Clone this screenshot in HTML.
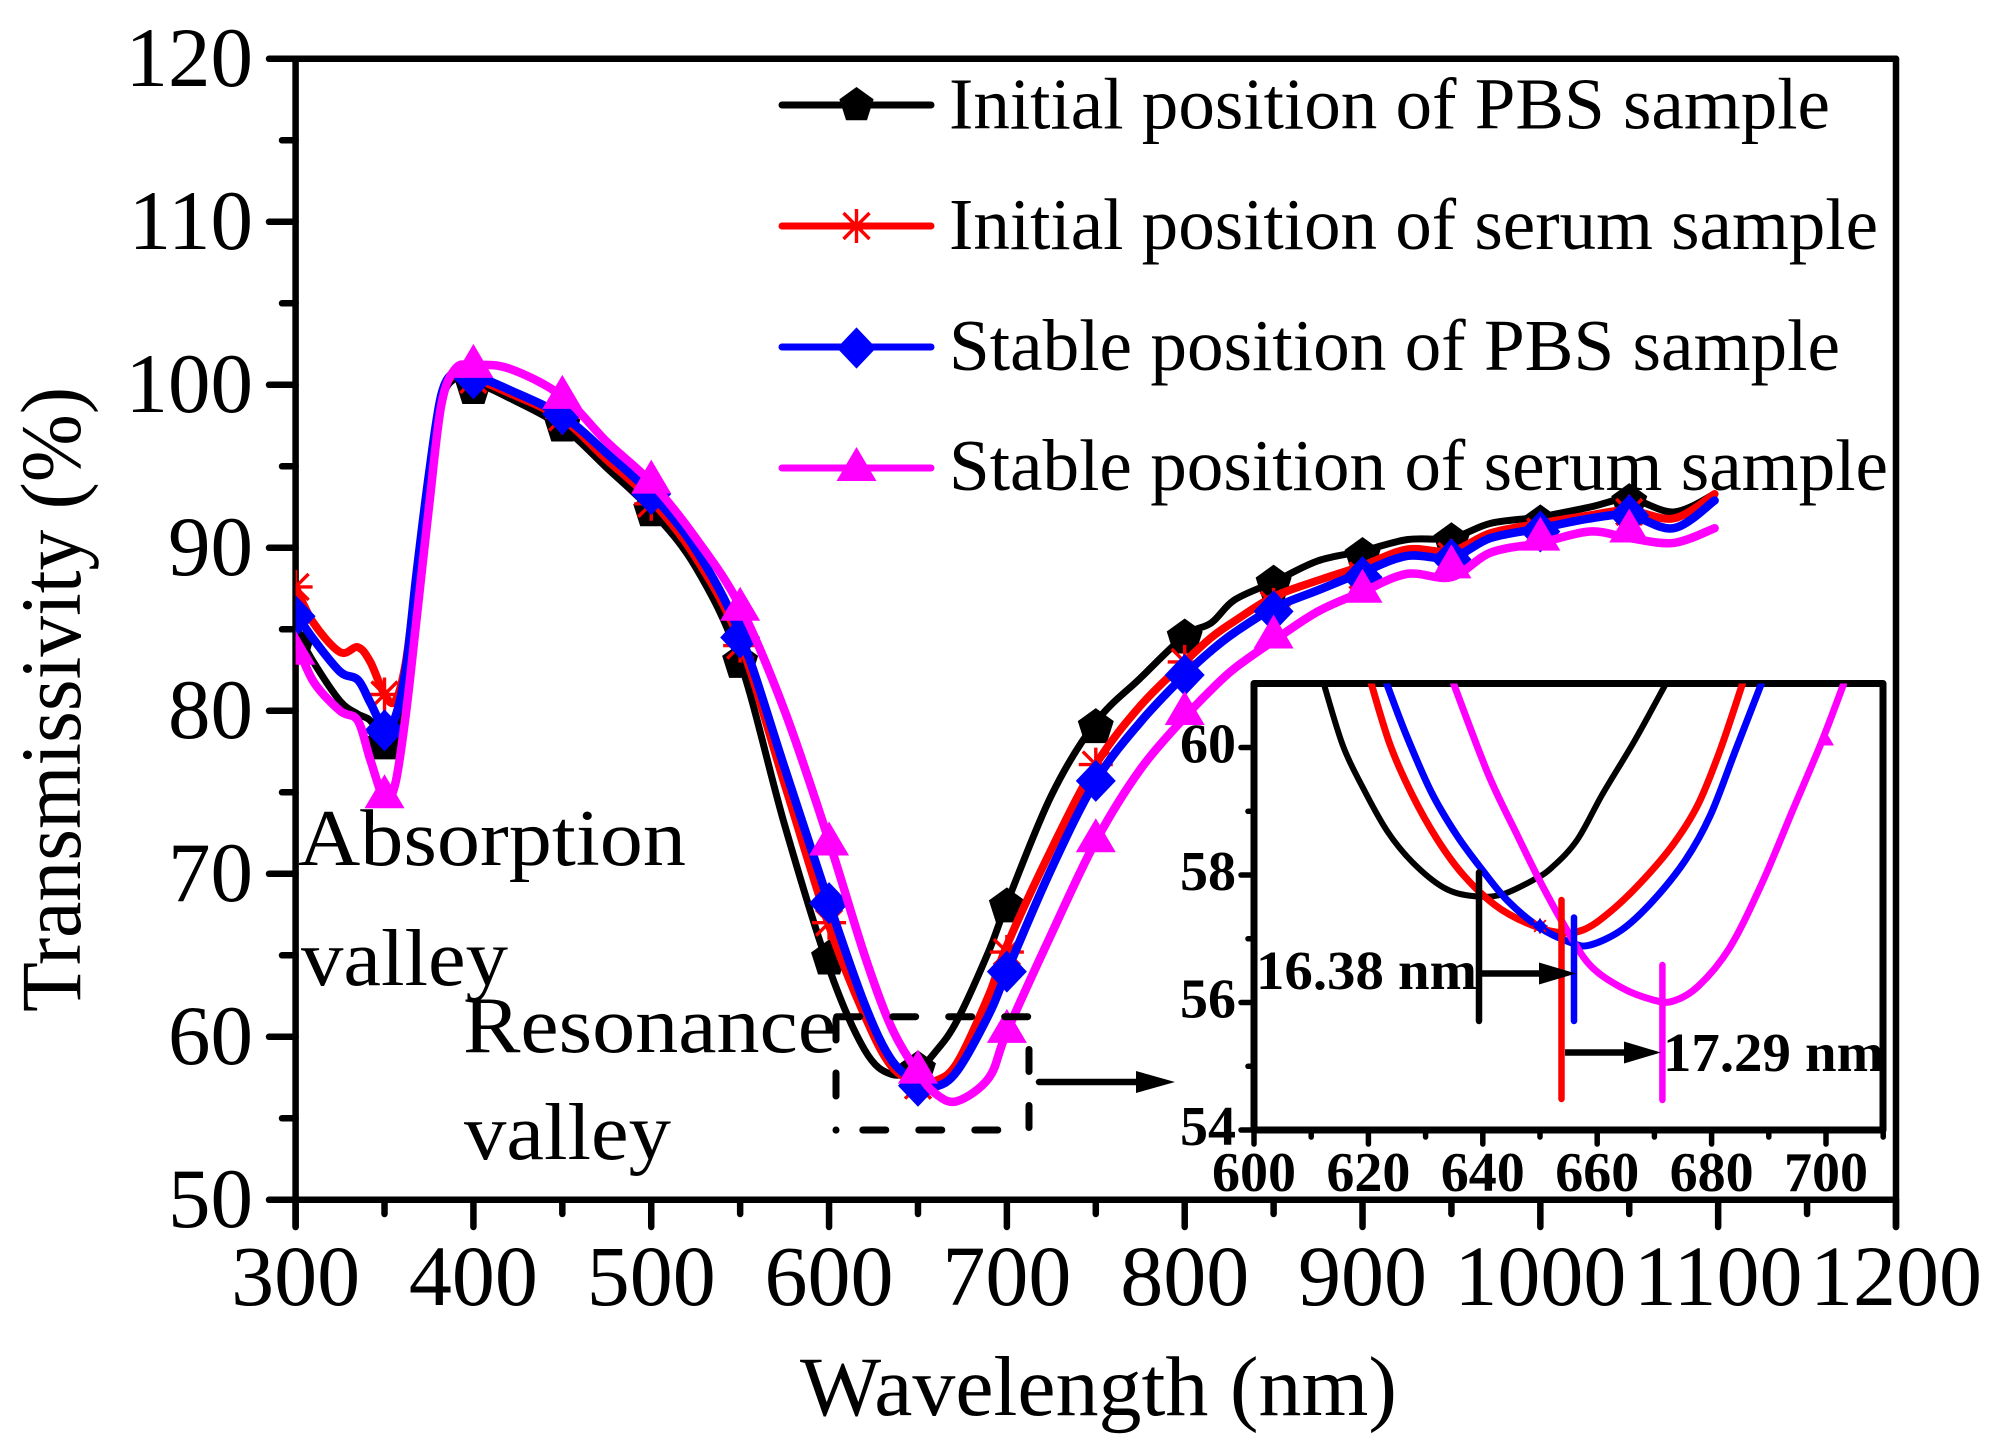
<!DOCTYPE html>
<html lang="en">
<head>
<meta charset="utf-8">
<title>Transmissivity versus wavelength</title>
<style>
html,body{margin:0;padding:0;background:#fff;}
svg{display:block;}
text{font-family:"Liberation Serif","Times New Roman",serif;fill:#000;}
.bold{font-weight:bold;}
</style>
</head>
<body>
<svg id="chart" xmlns="http://www.w3.org/2000/svg" width="1995" height="1443" viewBox="0 0 1995 1443">
  <rect x="0" y="0" width="1995" height="1443" fill="#fff"/>
  <defs>
    <clipPath id="plot-clip"><rect x="295.6" y="58.8" width="1600.4" height="1141"/></clipPath>
    <clipPath id="inset-clip"><rect x="1254" y="683.5" width="629" height="446.5"/></clipPath>
  </defs>
  <g id="main-axes"></g>
  <g id="main-series" clip-path="url(#plot-clip)"></g>

  <text transform="translate(80,1012) rotate(-90)" font-size="86" textLength="625" lengthAdjust="spacingAndGlyphs">Transmissivity (%)</text>
  <text x="800" y="1415" font-size="85" textLength="597" lengthAdjust="spacingAndGlyphs">Wavelength (nm)</text>

  <g font-size="80">
    <text x="298" y="865" textLength="388" lengthAdjust="spacingAndGlyphs">Absorption</text>
    <text x="301" y="985" textLength="207" lengthAdjust="spacingAndGlyphs">valley</text>
    <text x="463" y="1052" textLength="373" lengthAdjust="spacingAndGlyphs">Resonance</text>
    <text x="464" y="1159" textLength="207" lengthAdjust="spacingAndGlyphs">valley</text>
  </g>

  <g stroke="#000" stroke-width="7" stroke-linecap="round" fill="none">
    <path d="M836.7 1016.7H1029" stroke-dasharray="23 33"/>
    <path d="M836 1019V1040"/>
    <path d="M836 1073V1096"/>
    <path d="M836 1130V1130.1"/>
    <path d="M862.8 1130H1000" stroke-dasharray="23 33"/>
    <path d="M1029 1049.5V1071.5"/>
    <path d="M1029 1105.5V1127.5"/>
  </g>
  <g>
    <path d="M1039 1082H1140" stroke="#000" stroke-width="6.5" stroke-linecap="round"/>
    <path d="M1136 1071L1175 1082L1136 1093Z" fill="#000"/>
  </g>

  <g id="legend" font-size="73">
    <g>
      <path d="M782 105H931" stroke="#000" stroke-width="7" stroke-linecap="round"/>
      <text x="949" y="128.5" textLength="881" lengthAdjust="spacingAndGlyphs">Initial position of PBS sample</text>
    </g>
    <g>
      <path d="M782 226H931" stroke="#f00" stroke-width="7" stroke-linecap="round"/>
      <text x="949" y="249" textLength="929" lengthAdjust="spacingAndGlyphs">Initial position of serum sample</text>
    </g>
    <g>
      <path d="M782 347H931" stroke="#00f" stroke-width="7" stroke-linecap="round"/>
      <text x="949" y="370" textLength="891" lengthAdjust="spacingAndGlyphs">Stable position of PBS sample</text>
    </g>
    <g>
      <path d="M782 468H931" stroke="#f0f" stroke-width="7" stroke-linecap="round"/>
      <text x="949" y="490" textLength="939" lengthAdjust="spacingAndGlyphs">Stable position of serum sample</text>
    </g>
  </g>

  <g id="inset-axes"></g>
  <g id="inset-series" clip-path="url(#inset-clip)"></g>

  <g>
    <path d="M1479 872.5V1021" stroke="#000" stroke-width="6.5" stroke-linecap="round"/>
    <path d="M1561.5 900V1099" stroke="#f00" stroke-width="6.5" stroke-linecap="round"/>
    <path d="M1574 917.5V1021" stroke="#00f" stroke-width="6.5" stroke-linecap="round"/>
    <path d="M1662.4 965V1100" stroke="#f0f" stroke-width="6.5" stroke-linecap="round"/>
    <path d="M1482 973.5H1545" stroke="#000" stroke-width="6.5"/>
    <path d="M1539 962.5L1576 973.5L1539 984.5Z" fill="#000"/>
    <path d="M1565 1052.5H1630" stroke="#000" stroke-width="6.5"/>
    <path d="M1624 1041.5L1661 1052.5L1624 1063.5Z" fill="#000"/>
    <text class="bold" x="1256" y="989" font-size="55" textLength="221" lengthAdjust="spacingAndGlyphs">16.38 nm</text>
    <text class="bold" x="1663" y="1071" font-size="55" textLength="221" lengthAdjust="spacingAndGlyphs">17.29 nm</text>
  </g>
</svg>

<script>
// ===== Main chart data =====
const xTickValues = [300, 400, 500, 600, 700, 800, 900, 1000, 1100, 1200];
const xMinorTickValues = [350, 450, 550, 650, 750, 850, 950, 1050, 1150];
const yTickValues = [50, 60, 70, 80, 90, 100, 110, 120];
const yMinorTickValues = [55, 65, 75, 85, 95, 105, 115];

const lineWavelengths = [300,310,325,335,342,350,356,362,368,375,382,390,400,420,450,475,500,525,550,575,600,620,635,650,660,672,690,700,725,750,775,800,815,828,850,875,900,925,950,972,1000,1028,1050,1075,1098];
const initialPbsLine = [85,83,80.6,79.8,79.4,78.2,78.5,82,88,94.3,99,100.4,100.2,99.2,97.4,94.9,92.3,88.8,83,73,64.2,59.2,57.7,58.05,59.1,61,65.3,68.2,74.8,79.3,82,84.6,85.4,86.8,87.9,89.2,89.8,90.5,90.6,91.5,91.9,92.5,93,92.2,93.3];
const initialSerumLine = [87.6,85.4,83.6,83.9,83,81,80.6,83,88.2,94.5,99.2,100.7,100.4,99.5,97.9,95.4,92.9,89.4,84.2,75.5,66.8,61.3,58.2,57.2,57.3,58.4,62.6,65.6,71.5,76.7,80.3,83,84.5,85.5,87,88,88.9,89.9,89.8,90.9,91.5,92,92.3,91.8,93.3];
const stablePbsLine = [86,84.4,82.4,81.9,80.5,78.9,79.6,82.6,88.4,94.5,99.4,100.8,100.6,99.7,98.1,95.8,93.3,89.9,84.7,76.5,68.2,62,58.6,57.2,56.95,57.9,61.4,64,70.3,75.7,79.3,82.2,83.7,84.8,86.3,87.4,88.5,89.5,89.4,90.6,91.2,91.8,92,91.2,92.9];
const stableSerumLine = [84.3,81.8,80,79.4,77,74.6,75.5,79.8,85.6,92.5,98.8,101,101.2,101,99.3,96.5,94,90.6,86.4,80,72,65,60.6,57.8,56.5,56.05,57.5,60.3,66.3,72,76.4,79.6,81.3,82.6,84.3,86.1,87.3,88.4,88.2,89.7,90.3,91,90.6,90.3,91.2];

const markerWavelengths = [300,350,400,450,500,550,600,650,700,750,800,850,900,950,1000,1050];
const initialPbsMarkers = [84,78,99.8,97.5,92.3,83,64.8,58,68,79,84.5,87.8,89.5,90.4,91.5,92.8];
const initialSerumMarkers = [87.6,81,100.3,98,92.7,84,67,57,65.2,76.7,83,86.5,88.3,89.5,91,92.2];
const stablePbsMarkers = [85.8,78.8,100.4,98.2,93.3,84.5,68.2,57,64,75.7,82.2,86.1,88.2,89.3,91,92];
const stableSerumMarkers = [83.5,74.7,101.1,99.2,94,86.2,71.8,57.8,60.3,72,79.8,84.5,87.3,88.8,90.5,91];

// ===== Inset data =====
const insetXTickValues = [600, 620, 640, 660, 680, 700];
const insetXMinorTickValues = [610, 630, 650, 670, 690, 710];
const insetYTickValues = [54, 56, 58, 60];
const insetYMinorTickValues = [55, 57, 59];

const insetPbsX = [612.2,615.5,618.8,623.2,627.7,633.2,638.2,643.2,648.8,652.1,656.5,661,666.5,672];
const insetPbsY = [61,60.04,59.41,58.7,58.2,57.8,57.67,57.69,57.92,58.12,58.55,59.28,60.1,61];
const insetSerumX = [620.5,623.8,627.7,632.1,636.6,642.1,647.6,653.2,657.6,662.1,667.6,673.2,677.6,681.5,685.4];
const insetSerumY = [61,60.04,59.25,58.55,58,57.53,57.25,57.1,57.14,57.41,57.88,58.47,59.1,59.96,61];
const insetStablePbsX = [623.2,626.6,631,635.4,639.9,644.3,649.9,655.4,658.7,664.3,669.8,675.4,679.8,684.2,688.7];
const insetStablePbsY = [61,60.2,59.3,58.63,58.08,57.6,57.18,56.94,56.9,57.14,57.6,58.23,58.94,59.96,61];
const insetStableSerumX = [634.9,641,646,649.9,654.3,658.7,664.3,669.8,673.2,677.6,683.1,688.7,694.2,699.2,703.1];
const insetStableSerumY = [61,59.57,58.63,57.92,57.2,56.59,56.23,56.04,56.02,56.25,56.85,57.85,59.02,60.08,61];

const insetMarkerSerumX = [650];
const insetMarkerSerumY = [57.2];
const insetMarkerStablePbsX = [650];
const insetMarkerStablePbsY = [57.2];
const insetMarkerStableSerumX = [700];
const insetMarkerStableSerumY = [60.1];

// ===== Scales =====
const NS = 'http://www.w3.org/2000/svg';
function xScale(v){ return 295.6 + (v - 300) * 1.7782; }
function yScale(v){ return 1199.8 - (v - 50) * 16.3; }
function insetX(v){ return 1254 + (v - 600) * 5.72; }
function insetY(v){ return 1130 - (v - 54) * 63.75; }

// ===== Drawing helpers =====
function smoothPath(pts){
  let d = 'M' + pts[0][0].toFixed(2) + ' ' + pts[0][1].toFixed(2);
  for (let i = 0; i < pts.length - 1; i++) {
    const p0 = pts[Math.max(0, i - 1)], p1 = pts[i], p2 = pts[i + 1], p3 = pts[Math.min(pts.length - 1, i + 2)];
    const c1x = p1[0] + (p2[0] - p0[0]) / 6, c1y = p1[1] + (p2[1] - p0[1]) / 6;
    const c2x = p2[0] - (p3[0] - p1[0]) / 6, c2y = p2[1] - (p3[1] - p1[1]) / 6;
    d += 'C' + c1x.toFixed(2) + ' ' + c1y.toFixed(2) + ' ' + c2x.toFixed(2) + ' ' + c2y.toFixed(2) + ' ' + p2[0].toFixed(2) + ' ' + p2[1].toFixed(2);
  }
  return d;
}
function drawPath(parent, d, stroke, width, name, cap){
  const el = document.createElementNS(NS, 'path');
  el.setAttribute('d', d);
  el.setAttribute('fill', 'none');
  el.setAttribute('stroke', stroke);
  el.setAttribute('stroke-width', width);
  el.setAttribute('stroke-linecap', cap || 'round');
  el.setAttribute('stroke-linejoin', 'round');
  
  
  parent.appendChild(el);
  return el;
}
function markerPath(type, cx, cy, s){
  const P = function(dx, dy){ return (cx + dx * s).toFixed(2) + ' ' + (cy + dy * s).toFixed(2); };
  if (type === 'pentagon') {
    return 'M' + P(0,-19) + 'L' + P(18,-6) + 'L' + P(11,16) + 'L' + P(-11,16) + 'L' + P(-18,-6) + 'Z';
  }
  if (type === 'diamond') {
    return 'M' + P(0,-21) + 'L' + P(20,0) + 'L' + P(0,21) + 'L' + P(-20,0) + 'Z';
  }
  if (type === 'triangle') {
    return 'M' + P(0,-23) + 'L' + P(20,11) + 'L' + P(-20,11) + 'Z';
  }
  // star: four crossing strokes
  return 'M' + P(0,-17) + 'L' + P(0,17) + 'M' + P(-17,0) + 'L' + P(17,0) + 'M' + P(-13,-13) + 'L' + P(13,13) + 'M' + P(-13,13) + 'L' + P(13,-13);
}
function drawMarker(parent, type, cx, cy, s, color, name){
  const el = document.createElementNS(NS, 'path');
  el.setAttribute('d', markerPath(type, cx, cy, s));
  if (type === 'star') {
    el.setAttribute('fill', 'none');
    el.setAttribute('stroke', color);
    el.setAttribute('stroke-width', s < 1 ? 1.8 : 3.4);
  } else {
    el.setAttribute('fill', color);
  }
  
  
  parent.appendChild(el);
}
function drawLabel(parent, text, x, y, size, anchor, bold, name){
  const el = document.createElementNS(NS, 'text');
  el.textContent = text;
  el.setAttribute('x', x);
  el.setAttribute('y', y);
  el.setAttribute('font-size', size);
  el.setAttribute('text-anchor', anchor);
  if (bold) el.setAttribute('font-weight', 'bold');
  
  
  parent.appendChild(el);
}

// ===== Main axes =====
const axes = document.getElementById('main-axes');
drawPath(axes, 'M295.6 58.8V1227', '#000', 6.5, 'y-axis-line');
drawPath(axes, 'M295.6 1199.8H1896', '#000', 6.5, 'x-axis-line');
drawPath(axes, 'M295.6 58.8H1896', '#000', 6.5, 'top-axis-line');
drawPath(axes, 'M1896 58.8V1227', '#000', 6.5, 'right-axis-line');
yTickValues.forEach(function(v){
  drawPath(axes, 'M269 ' + yScale(v) + 'H295.6', '#000', 6.5, 'y-major-tick-' + v);
  drawLabel(axes, String(v), 253, yScale(v) + 27, 85, 'end', false, 'y-tick-label-' + v);
});
yMinorTickValues.forEach(function(v){
  drawPath(axes, 'M282 ' + yScale(v) + 'H295.6', '#000', 6.5, 'y-minor-tick-' + v);
});
xTickValues.forEach(function(v){
  drawPath(axes, 'M' + xScale(v) + ' 1199.8V1227', '#000', 6.5, 'x-major-tick-' + v);
  drawLabel(axes, String(v), xScale(v), 1305, 86, 'middle', false, 'x-tick-label-' + v);
});
xMinorTickValues.forEach(function(v){
  drawPath(axes, 'M' + xScale(v) + ' 1199.8V1214', '#000', 6.5, 'x-minor-tick-' + v);
});

// ===== Main series =====
const seriesGroup = document.getElementById('main-series');
const mainSeries = [
  { key: 'initial-pbs', line: initialPbsLine, markers: initialPbsMarkers, color: '#000', width: 7, type: 'pentagon' },
  { key: 'initial-serum', line: initialSerumLine, markers: initialSerumMarkers, color: '#f00', width: 8, type: 'star' },
  { key: 'stable-pbs', line: stablePbsLine, markers: stablePbsMarkers, color: '#00f', width: 8.5, type: 'diamond' },
  { key: 'stable-serum', line: stableSerumLine, markers: stableSerumMarkers, color: '#f0f', width: 8.5, type: 'triangle' }
];
mainSeries.forEach(function(s){
  const pts = lineWavelengths.map(function(w, i){ return [xScale(w), yScale(s.line[i])]; });
  drawPath(seriesGroup, smoothPath(pts), s.color, s.width, 'line-' + s.key);
  markerWavelengths.forEach(function(w, i){
    drawMarker(seriesGroup, s.type, xScale(w), yScale(s.markers[i]), 1, s.color, 'point-' + s.key + '-' + w);
  });
});

// ===== Legend markers =====
const legend = document.getElementById('legend');
drawMarker(legend, 'pentagon', 856.5, 105, 0.95, '#000', 'legend-marker-initial-pbs');
drawMarker(legend, 'star', 856.5, 226, 1, '#f00', 'legend-marker-initial-serum');
drawMarker(legend, 'diamond', 856.5, 348, 0.98, '#00f', 'legend-marker-stable-pbs');
drawMarker(legend, 'triangle', 856.5, 470, 1, '#f0f', 'legend-marker-stable-serum');

// ===== Inset axes =====
const iAxes = document.getElementById('inset-axes');
drawPath(iAxes, 'M1254 683.5H1883V1130H1254Z', '#000', 7, 'inset-frame');
insetYTickValues.forEach(function(v){
  drawPath(iAxes, 'M1241 ' + insetY(v) + 'H1254', '#000', 5.5, 'inset-y-major-tick-' + v);
  drawLabel(iAxes, String(v), 1236, insetY(v) + 15, 56, 'end', true, 'inset-y-tick-label-' + v);
});
insetYMinorTickValues.forEach(function(v){
  drawPath(iAxes, 'M1248 ' + insetY(v) + 'H1254', '#000', 5.5, 'inset-y-minor-tick-' + v);
});
insetXTickValues.forEach(function(v){
  drawPath(iAxes, 'M' + insetX(v) + ' 1130V1144', '#000', 5.5, 'inset-x-major-tick-' + v);
  drawLabel(iAxes, String(v), insetX(v), 1191, 56, 'middle', true, 'inset-x-tick-label-' + v);
});
insetXMinorTickValues.forEach(function(v){
  drawPath(iAxes, 'M' + insetX(v) + ' 1130V1137', '#000', 5.5, 'inset-x-minor-tick-' + v);
});

// ===== Inset series =====
const iSeries = document.getElementById('inset-series');
const insetSeries = [
  { key: 'initial-pbs', xs: insetPbsX, ys: insetPbsY, color: '#000', width: 6 },
  { key: 'initial-serum', xs: insetSerumX, ys: insetSerumY, color: '#f00', width: 7 },
  { key: 'stable-pbs', xs: insetStablePbsX, ys: insetStablePbsY, color: '#00f', width: 7 },
  { key: 'stable-serum', xs: insetStableSerumX, ys: insetStableSerumY, color: '#f0f', width: 7 }
];
insetSeries.forEach(function(s){
  const pts = s.xs.map(function(x, i){ return [insetX(x), insetY(s.ys[i])]; });
  drawPath(iSeries, smoothPath(pts), s.color, s.width, 'inset-line-' + s.key);
});
insetMarkerSerumX.forEach(function(x, i){
  drawMarker(iSeries, 'star', insetX(x), insetY(insetMarkerSerumY[i]), 0.45, '#f00', 'inset-point-initial-serum-' + x);
});
insetMarkerStablePbsX.forEach(function(x, i){
  drawMarker(iSeries, 'diamond', insetX(x), insetY(insetMarkerStablePbsY[i]), 0.35, '#00f', 'inset-point-stable-pbs-' + x);
});
insetMarkerStableSerumX.forEach(function(x, i){
  drawMarker(iSeries, 'triangle', insetX(x), insetY(insetMarkerStableSerumY[i]), 0.4, '#f0f', 'inset-point-stable-serum-' + x);
});
</script>
</body>
</html>
